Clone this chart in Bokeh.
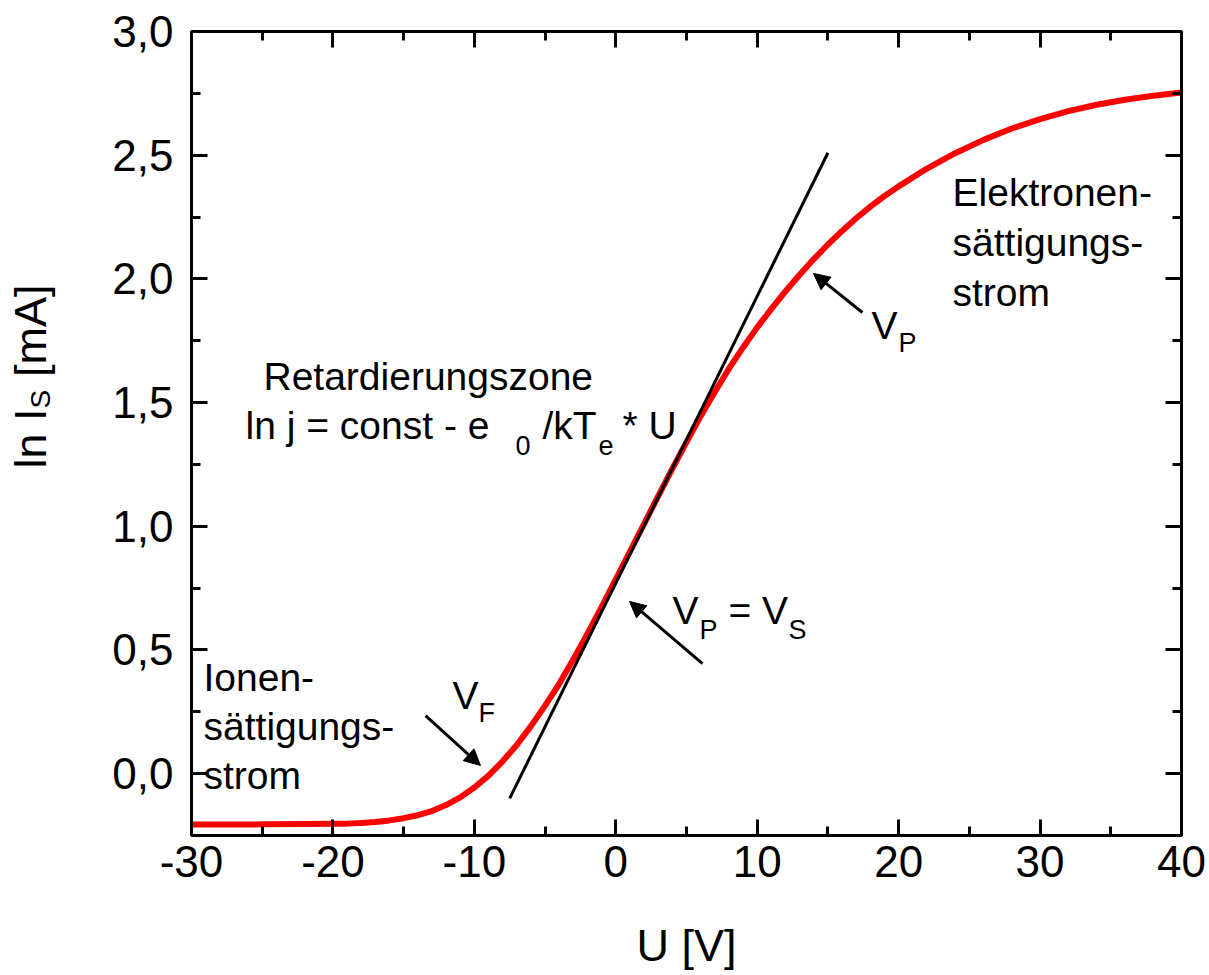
from math import pi

from bokeh.plotting import figure
from bokeh.models import (LinearAxis, FixedTicker, CustomJSTickFormatter, Label,
                          Arrow, NormalHead, Range1d)
from bokeh.core.properties import value
from bokeh.embed import file_html
from bokeh.resources import INLINE

# Langmuir probe characteristic: log of probe current against probe voltage
voltage = [-30, -25, -22, -20, -19, -18, -17, -16, -15, -14, -13, -12, -11, -10,
           -9, -8, -7, -6, -5, -4, -3, -2, -1, 0, 1, 2, 3, 4, 5, 6, 7, 8, 9, 10,
           11, 12, 13, 14, 15, 16, 17, 18, 19, 20, 22, 24, 26, 28, 30, 32, 34,
           36, 38, 40]
ln_current = [-0.206, -0.205, -0.204, -0.203, -0.202, -0.199, -0.195, -0.189,
              -0.180, -0.168, -0.151, -0.127, -0.096, -0.056, -0.008, 0.050,
              0.116, 0.192, 0.275, 0.363, 0.462, 0.566, 0.674, 0.785, 0.898,
              1.010, 1.122, 1.233, 1.340, 1.445, 1.543, 1.637, 1.723, 1.804,
              1.879, 1.950, 2.017, 2.080, 2.139, 2.194, 2.245, 2.292, 2.335,
              2.374, 2.446, 2.508, 2.562, 2.608, 2.646, 2.678, 2.704, 2.724,
              2.740, 2.753]

# straight line fitted to the retarding-field region
tangent_voltage = [-7.5, 15.0]
tangent_ln_current = [-0.10, 2.51]

# axis ticks
x_major = [-30, -20, -10, 0, 10, 20, 30, 40]
x_minor = [-25, -15, -5, 5, 15, 25, 35]
y_major = [0.0, 0.5, 1.0, 1.5, 2.0, 2.5, 3.0]
y_minor = [-0.25, 0.25, 0.75, 1.25, 1.75, 2.25, 2.75]

FONT = "Liberation Sans"
TEXT = "39px"
SUB = "27px"

p = figure(width=1209, height=975,
           x_range=Range1d(-30, 40), y_range=Range1d(-0.25, 3.0),
           output_backend="svg", toolbar_location=None,
           min_border_left=191, min_border_right=28,
           min_border_top=31, min_border_bottom=140,
           x_axis_label="U [V]")
p.xgrid.visible = False
p.ygrid.visible = False
p.outline_line_color = "black"
p.outline_line_width = 3
p.background_fill_color = "white"
p.border_fill_color = "white"


def style_axis(ax, major, minor, label_size="44px"):
    ax.ticker = FixedTicker(ticks=major, minor_ticks=minor)
    ax.axis_line_width = 3
    ax.axis_line_color = "black"
    ax.major_tick_line_width = 3
    ax.minor_tick_line_width = 3
    ax.major_tick_line_color = "black"
    ax.minor_tick_line_color = "black"
    ax.major_tick_in = 16
    ax.major_tick_out = 0
    ax.minor_tick_in = 9
    ax.minor_tick_out = 0
    ax.major_label_text_font = FONT
    ax.major_label_text_font_size = label_size
    ax.major_label_text_color = "black"


xaxis = p.xaxis[0]
style_axis(xaxis, x_major, x_minor)
xaxis.formatter = CustomJSTickFormatter(code="return tick.toFixed(0);")
xaxis.major_label_standoff = 10
xaxis.axis_label_text_font = FONT
xaxis.axis_label_text_font_size = "45px"
xaxis.axis_label_text_font_style = "normal"
xaxis.axis_label_text_color = "black"
xaxis.axis_label_standoff = 40

yaxis = p.yaxis[0]
style_axis(yaxis, y_major, y_minor)
yaxis.major_label_standoff = 18
yaxis.formatter = CustomJSTickFormatter(code="return tick.toFixed(1).replace('.', ',');")

# mirrored tick marks on the top and right edges
blank = CustomJSTickFormatter(code="return '';")
top = LinearAxis(formatter=blank, major_label_standoff=0)
style_axis(top, x_major, x_minor, "0px")
p.add_layout(top, "above")
right = LinearAxis(formatter=blank, major_label_standoff=0)
style_axis(right, y_major, y_minor, "0px")
p.add_layout(right, "right")

# measured curve and fitted line
p.line(voltage, ln_current, line_color="#ff0000", line_width=6,
       line_join="round", line_cap="round")
p.line(tangent_voltage, tangent_ln_current, line_color="black", line_width=3)

# y axis title with subscript, written bottom to top in the left margin
p.text(x=[-41.38, -40.68, -41.38], y=[1.2335, 1.476, 1.603],
       text=["ln I", "S", "[mA]"], angle=pi / 2,
       text_font=value(FONT), text_font_size=["45px", "28px", "45px"],
       text_color="black", text_align="left", text_baseline="alphabetic",
       level="overlay")


def note(x, y, text, size=TEXT):
    p.add_layout(Label(x=x, y=y, text=text, text_font=FONT, text_font_size=size,
                       text_color="black", text_align="left",
                       text_baseline="alphabetic"))


# retarding zone
note(-24.91, 1.605, "Retardierungszone")
note(-26.18, 1.407, "ln j = const - e")
note(-7.09, 1.326, "0", SUB)
note(-5.18, 1.407, "/kT")
note(-1.22, 1.326, "e", SUB)
note(0.475, 1.407, "* U")

# ion saturation region
note(-29.15, 0.388, "Ionen-")
note(-29.15, 0.190, "sättigungs-")
note(-29.15, -0.008, "strom")

# electron saturation region
note(23.81, 2.349, "Elektronen-")
note(23.81, 2.146, "sättigungs-")
note(23.81, 1.944, "strom")

# floating potential
note(-11.545, 0.315, "V")
note(-9.71, 0.247, "F", SUB)

# plasma potential = space potential
note(4.01, 0.659, "V")
note(5.92, 0.582, "P", SUB)
note(7.97, 0.659, "= V")
note(12.21, 0.582, "S", SUB)

# plasma potential at the knee
note(18.08, 1.811, "V")
note(19.99, 1.742, "P", SUB)


def pointer(x0, y0, x1, y1):
    p.add_layout(Arrow(end=NormalHead(size=16, fill_color="black", line_color="black",
                                      line_width=1),
                       x_start=x0, y_start=y0, x_end=x1, y_end=y1,
                       line_color="black", line_width=3))


pointer(-13.45, 0.235, -9.57, 0.033)
pointer(6.13, 0.445, 0.97, 0.696)
pointer(17.44, 1.864, 13.98, 2.022)

open("out.html", "w").write(file_html(p, INLINE))
